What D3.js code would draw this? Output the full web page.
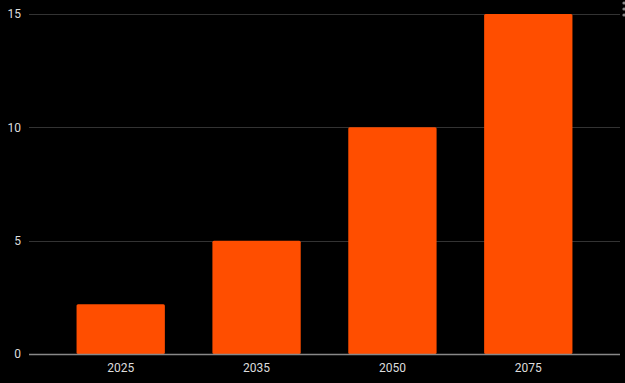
<!DOCTYPE html>
<html><head><meta charset="utf-8">
<script src="https://cdn.jsdelivr.net/npm/d3@7"></script>
<style>html,body{margin:0;padding:0;background:#000;overflow:hidden}</style>
</head><body>
<svg id="c" width="625" height="383"></svg>
<script>
const categories = ["2025", "2035", "2050", "2075"];
const values = [2.2, 5, 10, 15];
const yTicks = [0, 5, 10, 15];

const svg = d3.select("#c");
svg.append("rect").attr("width", 625).attr("height", 383).attr("fill", "#000");
const plotLeft = 29, plotRight = 620, plotTop = 14, plotBottom = 354;

const x = d3.scaleBand().domain(categories).range([plotLeft, plotRight]).paddingInner(0.35).paddingOuter(0.35);
const y = d3.scaleLinear().domain([0, 15]).range([plotBottom, plotTop]);

const font = "Roboto, Arial, sans-serif";

// gridlines
svg.append("g").selectAll("line").data(yTicks.filter(d => d !== 0)).join("line")
  .attr("x1", plotLeft).attr("x2", plotRight)
  .attr("y1", d => Math.round(y(d)) + 0.5).attr("y2", d => Math.round(y(d)) + 0.5)
  .attr("stroke", "#333").attr("stroke-width", 1);

// bars
svg.append("g").selectAll("rect").data(values).join("rect")
  .attr("x", (d, i) => x(categories[i]))
  .attr("y", d => y(d))
  .attr("width", x.bandwidth())
  .attr("height", d => y(0) - y(d))
  .attr("rx", 1.5)
  .attr("fill", "#ff4e00");

// baseline
svg.append("line").attr("x1", plotLeft).attr("x2", plotRight)
  .attr("y1", y(0) + 0.5).attr("y2", y(0) + 0.5)
  .attr("stroke", "#888").attr("stroke-width", 1.5);

// y labels
svg.append("g").selectAll("text").data(yTicks).join("text")
  .attr("x", 21).attr("y", d => y(d))
  .attr("dy", "0.35em")
  .attr("text-anchor", "end")
  .attr("font-family", font).attr("font-size", 12)
  .attr("fill", "#ddd")
  .text(d => d);

// x labels
svg.append("g").selectAll("text").data(categories).join("text")
  .attr("x", d => x(d) + x.bandwidth() / 2).attr("y", 368)
  .attr("dy", "0.35em")
  .attr("text-anchor", "middle")
  .attr("font-family", font).attr("font-size", 12)
  .attr("fill", "#ddd")
  .text(d => d);

// partial menu icon at top right
svg.append("g").selectAll("circle").data([3, 9, 15]).join("circle")
  .attr("cx", 624).attr("cy", d => d).attr("r", 1.6).attr("fill", "#888");
</script>
</body></html>
